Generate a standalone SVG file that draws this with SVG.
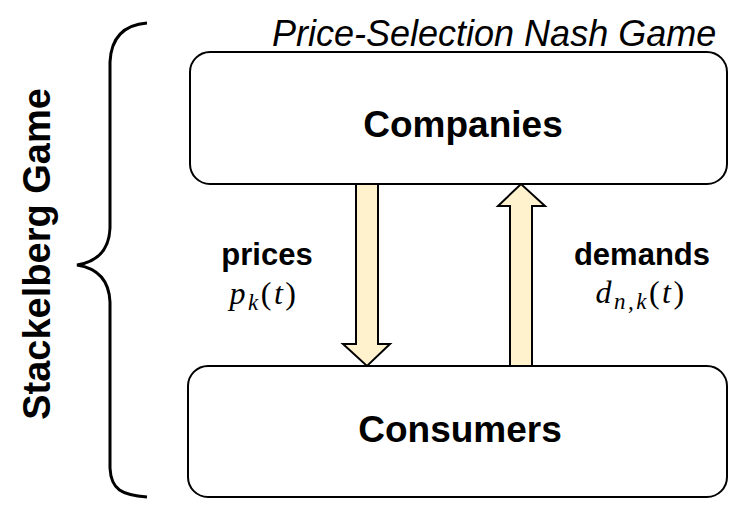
<svg xmlns="http://www.w3.org/2000/svg" width="747" height="508" viewBox="0 0 747 508">
<style>
.box{fill:#fff;stroke:#000;stroke-width:2}
.arr{fill:#FFF2CC;stroke:#000;stroke-width:2;stroke-linejoin:miter}
.big{font-family:"Liberation Sans",Arial,sans-serif;font-weight:bold;font-size:37px;text-anchor:middle;fill:#000}
.lbl{font-family:"Liberation Sans",Arial,sans-serif;font-weight:bold;font-size:31px;text-anchor:middle;fill:#000}
.math{font-family:"Liberation Serif","Times New Roman",serif;font-size:32px;letter-spacing:2.5px;text-anchor:middle;fill:#000}
.ttl{font-family:"Liberation Sans",Arial,sans-serif;font-style:italic;font-size:36px;fill:#000}
</style>
<rect width="747" height="508" fill="#fff"/>
<text class="ttl" x="272" y="46">Price-Selection Nash Game</text>
<g id="brace">
<path d="M147,23 C122,25 111,40 110,62 L110,228 C109,252 96,262 77,265 C96,268 109,278 110,302 L110,468 C111,490 122,495 147,497" fill="none" stroke="#000" stroke-width="3"/>
<text class="big" transform="translate(50,254) rotate(-90)" style="font-size:38px">Stackelberg Game</text>
</g>
<g id="companies">
<rect class="box" x="190" y="52" width="537" height="132" rx="20"/>
<text class="big" x="463" y="137">Companies</text>
</g>
<g id="consumers">
<rect class="box" x="188" y="366" width="539" height="131" rx="20"/>
<text class="big" x="460" y="442">Consumers</text>
</g>
<g id="connectors">
<path class="arr" d="M356,184 L378,184 L378,344 L390,344 L367,366 L343,344 L356,344 Z"/>
<path class="arr" d="M510,366 L532,366 L532,206 L545,206 L521,184 L498,206 L510,206 Z"/>
<text class="lbl" x="267" y="265">prices</text>
<text class="math" x="264" y="304"><tspan font-style="italic">p</tspan><tspan font-style="italic" font-size="23" dy="6">k</tspan><tspan dy="-6">(</tspan><tspan font-style="italic">t</tspan>)</text>
<text class="lbl" x="642" y="265">demands</text>
<text class="math" x="641" y="303"><tspan font-style="italic">d</tspan><tspan font-style="italic" font-size="23" dy="6">n,k</tspan><tspan dy="-6">(</tspan><tspan font-style="italic">t</tspan>)</text>
</g>
</svg>
